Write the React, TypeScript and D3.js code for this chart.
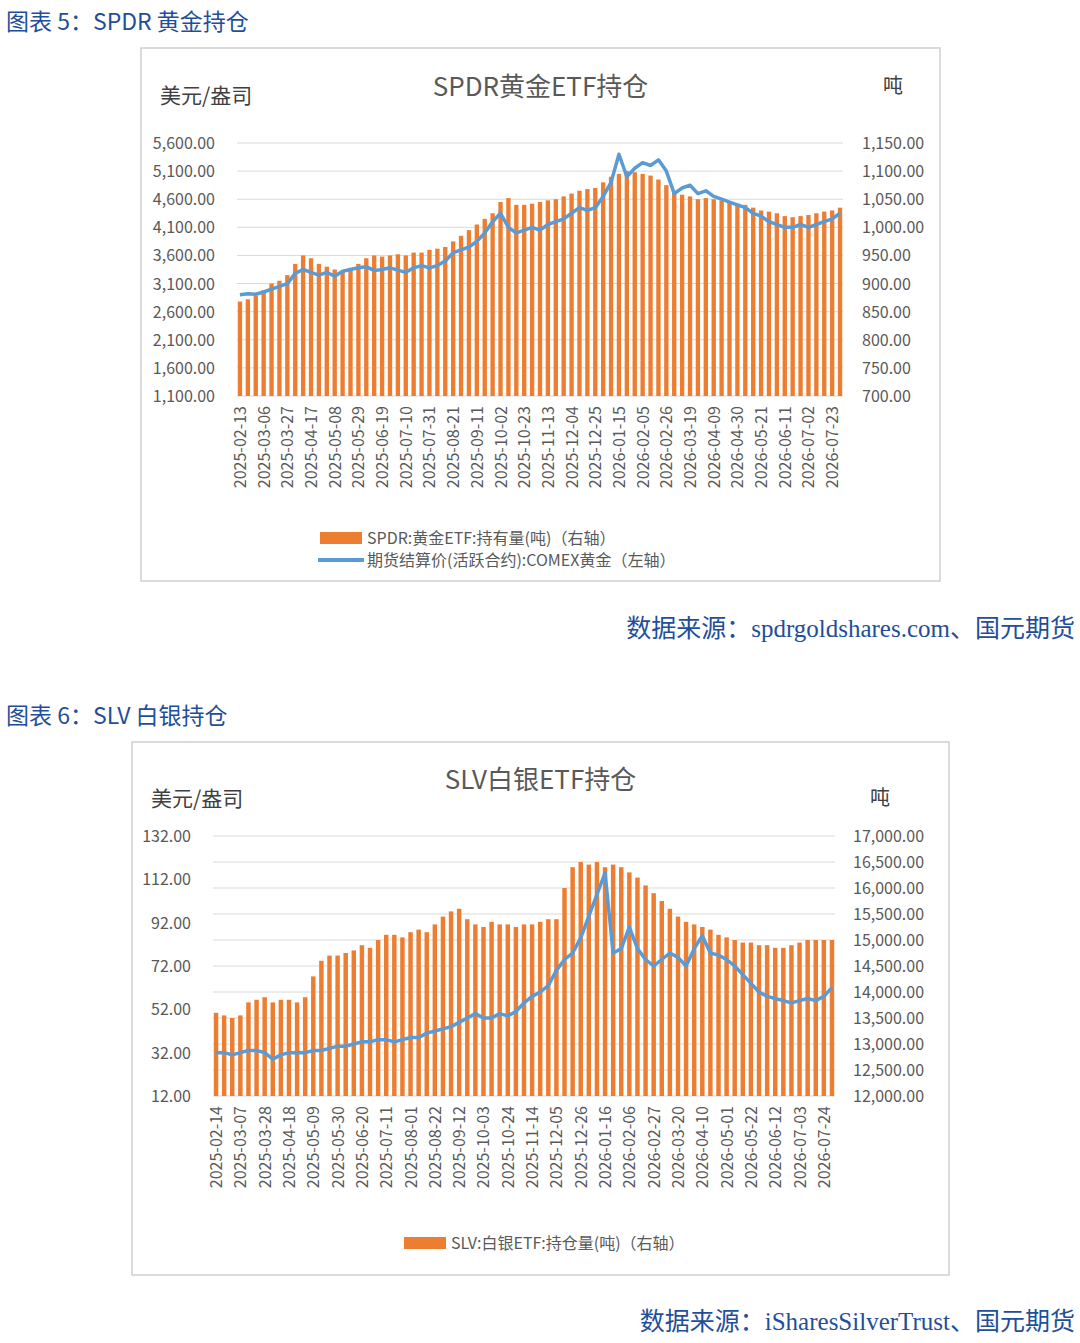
import React from "react";
import * as d3 from "d3";

const goldHold = [868,872,878,888,900,905,915,935,950,945,935,930,925,922,928,935,945,950,948,950,952,950,955,955,960,962,965,975,985,995,1005,1015,1025,1045,1052,1040,1040,1042,1045,1048,1050,1055,1060,1065,1068,1070,1080,1090,1095,1100,1098,1095,1092,1085,1075,1065,1058,1055,1050,1052,1050,1048,1045,1042,1040,1035,1030,1028,1025,1020,1018,1020,1022,1025,1028,1030,1035];
const goldPrice = [2900,2920,2910,2950,3000,3050,3100,3280,3350,3300,3250,3300,3230,3320,3350,3380,3400,3330,3350,3380,3340,3300,3380,3420,3380,3420,3500,3650,3700,3750,3850,4000,4200,4350,4100,4000,4050,4100,4050,4150,4200,4250,4350,4450,4400,4450,4650,4900,5400,5000,5150,5250,5200,5300,5100,4700,4800,4850,4700,4750,4650,4600,4550,4500,4450,4350,4300,4200,4150,4100,4100,4150,4100,4150,4200,4250,4350];
const goldTicks = ["2025-02-13","2025-03-06","2025-03-27","2025-04-17","2025-05-08","2025-05-29","2025-06-19","2025-07-10","2025-07-31","2025-08-21","2025-09-11","2025-10-02","2025-10-23","2025-11-13","2025-12-04","2025-12-25","2026-01-15","2026-02-05","2026-02-26","2026-03-19","2026-04-09","2026-04-30","2026-05-21","2026-06-11","2026-07-02","2026-07-23"];
const goldLeft = [1100,1600,2100,2600,3100,3600,4100,4600,5100,5600];
const goldRight = [700,750,800,850,900,950,1000,1050,1100,1150];

const silverHold = [13600,13550,13500,13550,13800,13850,13900,13800,13850,13850,13800,13900,14300,14600,14700,14700,14750,14800,14900,14850,15000,15100,15100,15050,15150,15200,15150,15300,15450,15550,15600,15400,15300,15250,15350,15300,15300,15250,15300,15300,15350,15400,15400,16000,16400,16500,16450,16500,16400,16450,16400,16300,16200,16050,15900,15750,15600,15450,15350,15300,15250,15200,15100,15050,15000,14950,14950,14900,14900,14850,14850,14900,14950,15000,15000,15000,15000];
const silverPrice = [32,32,31,32,33,33,32,29,31,32,32,32,33,33,34,35,35,36,37,37,38,38,37,38,39,39,41,42,43,44,46,48,50,48,48,50,49,51,55,58,60,63,70,75,78,85,95,105,115,78,80,90,80,75,72,75,78,76,72,80,86,78,77,75,72,68,64,60,58,57,56,55,56,57,56,58,62];
const silverTicks = ["2025-02-14","2025-03-07","2025-03-28","2025-04-18","2025-05-09","2025-05-30","2025-06-20","2025-07-11","2025-08-01","2025-08-22","2025-09-12","2025-10-03","2025-10-24","2025-11-14","2025-12-05","2025-12-26","2026-01-16","2026-02-06","2026-02-27","2026-03-20","2026-04-10","2026-05-01","2026-05-22","2026-06-12","2026-07-03","2026-07-24"];
const silverLeft = [12,32,52,72,92,112,132];
const silverRight = [12000,12500,13000,13500,14000,14500,15000,15500,16000,16500,17000];

const ORANGE = "#ED7D31";
const BLUE = "#5B9BD5";
const CJK = "'Noto Sans CJK SC', 'Noto Sans', sans-serif";
const HEAD = "#1F4E9A";
const fmt = d3.format(",.2f");

type CP = {
  box: [number, number, number, number]; title: string;
  plot: [number, number, number, number];
  hold: number[]; price: number[]; ticks: string[];
  left: number[]; right: number[];
  legend: { text: string; line: boolean }[];
  legendY: number; legendX: number;
  titleY: number; leftLblX: number; leftLblY: number; rightLblX: number; rightLblY: number;
  leftTickX: number; rightTickX: number;
};

function Chart(p: CP) {
  const [x0, y0, x1, y1] = p.plot;
  const n = p.hold.length;
  const xb = d3.scaleBand<number>().domain(d3.range(n)).range([x0, x1]).paddingInner(0.45).paddingOuter(0.1);
  const yl = d3.scaleLinear().domain([p.left[0], p.left[p.left.length - 1]]).range([y1, y0]);
  const yr = d3.scaleLinear().domain([p.right[0], p.right[p.right.length - 1]]).range([y1, y0]);
  const cx = (i: number) => (xb(i) as number) + xb.bandwidth() / 2;
  const line = d3.line<number>().x((_, i) => cx(i)).y(d => yl(d));
  const [bx, by, bw, bh] = p.box;
  return (
    <g>
      <rect x={bx} y={by} width={bw} height={bh} fill="#fff" stroke="#d0d0d0" strokeWidth={1.5} />
      <text x={bx + bw / 2} y={p.titleY} textAnchor="middle" fontSize={26} fill="#595959" fontFamily={CJK}>{p.title}</text>
      <text x={p.leftLblX} y={p.leftLblY} fontSize={21} fill="#404040" fontFamily={CJK}>美元/盎司</text>
      <text x={p.rightLblX} y={p.rightLblY} fontSize={20} fill="#404040" fontFamily={CJK}>吨</text>
      {p.right.map(v => (
        <line key={v} x1={x0} x2={x1} y1={yr(v)} y2={yr(v)} stroke="#d9d9d9" strokeWidth={1} />
      ))}
      {p.left.map(v => (
        <text key={v} x={p.leftTickX} y={yl(v) + 6} textAnchor="end" fontSize={16} fill="#595959" fontFamily={CJK}>{fmt(v)}</text>
      ))}
      {p.right.map(v => (
        <text key={v} x={p.rightTickX} y={yr(v) + 6} fontSize={16} fill="#595959" fontFamily={CJK}>{fmt(v)}</text>
      ))}
      {p.hold.map((v, i) => (
        <rect key={i} x={xb(i)} y={yr(v)} width={xb.bandwidth()} height={y1 - yr(v)} fill={ORANGE} />
      ))}
      <path d={line(p.price) || ""} fill="none" stroke={BLUE} strokeWidth={3.5} strokeLinejoin="round" />
      {p.ticks.map((t, k) => (
        <text key={t} transform={`translate(${cx(k * 3) + 6},${y1 + 10}) rotate(-90)`} textAnchor="end" fontSize={16} fill="#595959" fontFamily={CJK}>{t}</text>
      ))}
      {p.legend.map((l, k) => (
        <g key={k} transform={`translate(${p.legendX},${p.legendY + k * 22})`}>
          {l.line ? <line x1={0} x2={46} y1={0} y2={0} stroke={BLUE} strokeWidth={4} /> : <rect x={2} y={-6} width={42} height={12} fill={ORANGE} />}
          <text x={49} y={6} fontSize={16} fill="#595959" fontFamily={CJK}>{l.text}</text>
        </g>
      ))}
    </g>
  );
}

export default function App() {
  return (
    <svg width={1080} height={1343} style={{ display: "block", position: "absolute", left: 0, top: 0 }}>
      <rect width={1080} height={1343} fill="#fff" />
      <text x={6} y={30} fontSize={23} fill={HEAD} fontFamily={CJK}>图表 5：SPDR 黄金持仓</text>
      <Chart box={[141, 48, 799, 533]} title="SPDR黄金ETF持仓" plot={[237, 143, 843, 396]}
        hold={goldHold} price={goldPrice} ticks={goldTicks} left={goldLeft} right={goldRight}
        legend={[{ text: "SPDR:黄金ETF:持有量(吨)（右轴）", line: false }, { text: "期货结算价(活跃合约):COMEX黄金（左轴）", line: true }]}
        legendX={318} legendY={538} titleY={96} leftLblX={160} leftLblY={103} rightLblX={883} rightLblY={93}
        leftTickX={215} rightTickX={862} />
      <text x={1075} y={637} textAnchor="end" fontSize={25} fill={HEAD} fontFamily={CJK}>数据来源：<tspan fontFamily="'Liberation Serif', serif">spdrgoldshares.com</tspan>、国元期货</text>
      <text x={6} y={724} fontSize={23} fill={HEAD} fontFamily={CJK}>图表 6：SLV 白银持仓</text>
      <Chart box={[132, 742, 817, 533]} title="SLV白银ETF持仓" plot={[213, 836, 835, 1096]}
        hold={silverHold} price={silverPrice} ticks={silverTicks} left={silverLeft} right={silverRight}
        legend={[{ text: "SLV:白银ETF:持仓量(吨)（右轴）", line: false }]}
        legendX={402} legendY={1243} titleY={789} leftLblX={151} leftLblY={806} rightLblX={870} rightLblY={805}
        leftTickX={191} rightTickX={853} />
      <text x={1075} y={1330} textAnchor="end" fontSize={25} fill={HEAD} fontFamily={CJK}>数据来源：<tspan fontFamily="'Liberation Serif', serif">iSharesSilverTrust</tspan>、国元期货</text>
    </svg>
  );
}
